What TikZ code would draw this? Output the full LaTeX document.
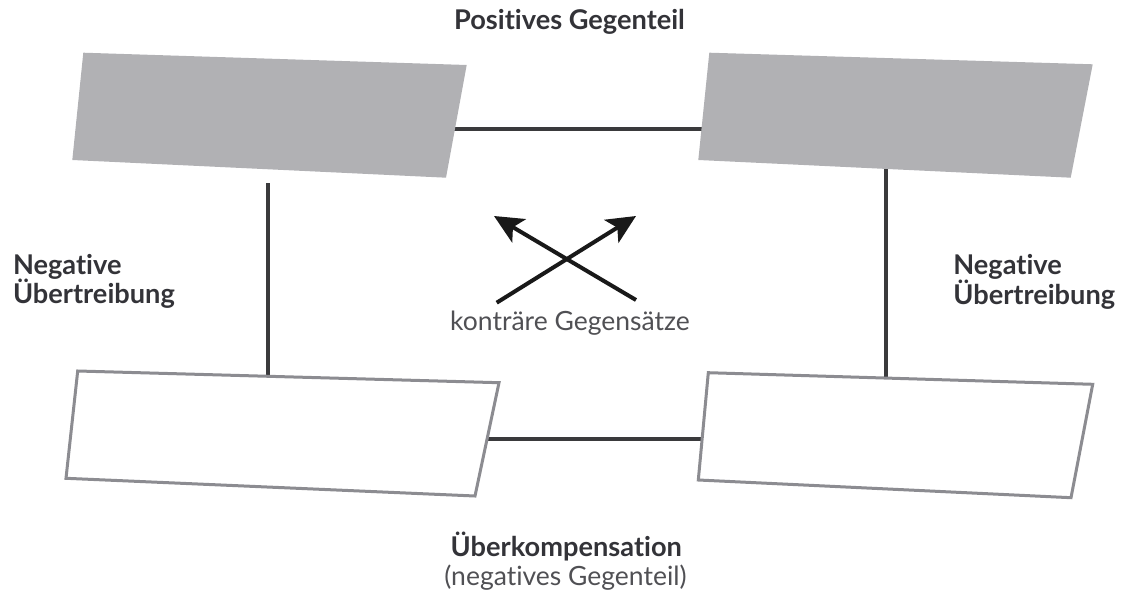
\documentclass[tikz,border=0pt]{standalone}
\usepackage{fontspec}
\setmainfont[Ligatures={NoCommon}]{Lato}
\usetikzlibrary{arrows.meta}
\definecolor{boxgray}{HTML}{B1B1B4}
\definecolor{edgegray}{HTML}{8C8C91}
\definecolor{linedark}{HTML}{3A3A3C}
\definecolor{textdark}{HTML}{333338}
\definecolor{textmid}{HTML}{505054}
\tikzset{
  x=1pt, y=-1pt,
  conn/.style={draw=linedark, line width=4pt},
  filledbox/.style={fill=boxgray, draw=none},
  openbox/.style={fill=white, draw=edgegray, line width=3pt, line join=miter},
  crossarrow/.style={draw=black!90, line width=4pt, -{Stealth[length=29pt,width=27pt,inset=7pt]}},
  boldlabel/.style={text=textdark, font=\bfseries\fontsize{27.2}{29.5}\selectfont, inner sep=0pt, outer sep=0pt},
  reglabel/.style={text=textmid, font=\fontsize{26.5}{24}\selectfont, inner sep=0pt, outer sep=0pt},
}
\begin{document}
\begin{tikzpicture}
\useasboundingbox (0,0) rectangle (1123,601);
% connector end points
\coordinate (topL) at (450,129.3);
\coordinate (topR) at (706,129.3);
\coordinate (botL) at (485,439);
\coordinate (botR) at (704,439);
\coordinate (vlTop) at (268.3,183.5);
\coordinate (vlBot) at (268.3,380);
\coordinate (vrTop) at (886.3,165);
\coordinate (vrBot) at (886.3,380);
% connectors (under the boxes)
\draw[conn] (topL) -- (topR);
\draw[conn] (botL) -- (botR);
\draw[conn] (vlTop) -- (vlBot);
\draw[conn] (vrTop) -- (vrBot);
% boxes
\coordinate (a1) at (83.3,52.7);  \coordinate (a2) at (466.7,65);
\coordinate (a3) at (446,177.7);  \coordinate (a4) at (72.3,160);
\filldraw[filledbox] (a1) -- (a2) -- (a3) -- (a4) -- cycle;
\coordinate (b1) at (709.3,52.7); \coordinate (b2) at (1092.7,64.3);
\coordinate (b3) at (1070.7,177.7); \coordinate (b4) at (698.3,160);
\filldraw[filledbox] (b1) -- (b2) -- (b3) -- (b4) -- cycle;
\coordinate (c1) at (77.7,371);   \coordinate (c2) at (499,382.7);
\coordinate (c3) at (475,496);    \coordinate (c4) at (66,478.3);
\filldraw[openbox] (c1) -- (c2) -- (c3) -- (c4) -- cycle;
\coordinate (d1) at (708.3,372.7); \coordinate (d2) at (1092.7,384.3);
\coordinate (d3) at (1071,497.7);  \coordinate (d4) at (698.3,480);
\filldraw[openbox] (d1) -- (d2) -- (d3) -- (d4) -- cycle;
% crossing arrows
\coordinate (ar1s) at (496.7,302.7); \coordinate (ar1e) at (636,216);
\coordinate (ar2s) at (636,300);     \coordinate (ar2e) at (494,216);
\draw[crossarrow] (ar1s) -- (ar1e);
\draw[crossarrow] (ar2s) -- (ar2e);
% labels
\node[boldlabel, anchor=base] (pos) at (569.5,30) {Positives Gegenteil};
\node[boldlabel, anchor=base west, align=left] (negL) at (13,304) {Negative\\Übertreibung};
\node[boldlabel, anchor=base west, align=left] (negR) at (953.3,304.5) {Negative\\Übertreibung};
\node[reglabel, anchor=base] (kon) at (570,330.5) {konträre Gegensätze};
\node[boldlabel, anchor=base] (ueb) at (566.3,556.5) {Überkompensation};
\node[reglabel, anchor=base] (neg) at (565.5,585.5) {(negatives Gegenteil)};
\end{tikzpicture}
\end{document}
